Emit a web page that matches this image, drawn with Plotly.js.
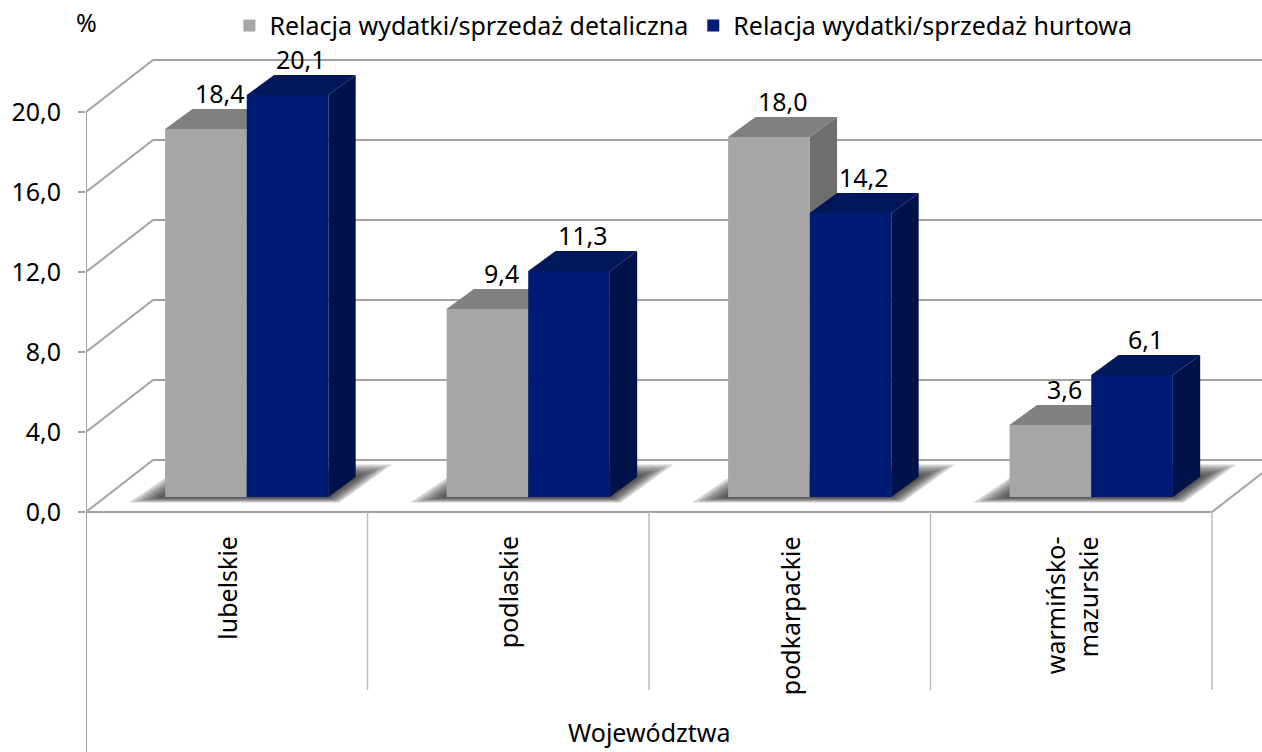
<!DOCTYPE html>
<html>
<head>
<meta charset="utf-8">
<script src="https://cdn.plot.ly/plotly-3.0.1.min.js"></script>
<style>
  html, body { margin: 0; padding: 0; background: #fff; }
  #graph-container { width: 1262px; height: 752px; }
</style>
</head>
<body>
<div id="graph-container"></div>
<script>
// data
const categories = ['lubelskie', 'podlaskie', 'podkarpackie', 'warmińsko-<br>mazurskie'];
const retailRatio = [18.4, 9.4, 18.0, 3.6];
const wholesaleRatio = [20.1, 11.3, 14.2, 6.1];
const seriesNames = ['Relacja wydatki/sprzedaż detaliczna', 'Relacja wydatki/sprzedaż hurtowa'];
const yTicks = [0, 4, 8, 12, 16, 20];

// fake 3D geometry, in axis units
const PX_X = 281.5;      // pixels per x unit
const PX_Y = 20;         // pixels per y unit
const WALL_DX = 0.238;   // depth of the box along x
const WALL_DY = 2.6;     // depth of the box along y
const BAR_BASE = 0.75;   // bars stand a bit back on the floor
const BAR_W = 0.29;
const BAR_DX = 0.097;    // bar depth
const BAR_DY = 1.0;
const GRAY_LEFT = 0.281;

const colors = {
    grid: '#a3a3a3',
    divider: '#bdbdbd',
    gray: { front: '#a6a6a6', top: '#808080', side: '#6e6e6e' },
    blue: { front: '#001b74', top: '#00185a', side: '#00124a' }
};

const fmt = v => v.toFixed(1).replace('.', ',');

function line(x0, y0, x1, y1, color, width) {
    return { type: 'line', xref: 'x', yref: 'y', x0, y0, x1, y1, layer: 'below',
             line: { color: color, width: width } };
}
function poly(pts, fill, opacity) {
    const d = 'M ' + pts.map(p => p[0] + ',' + p[1]).join(' L ') + ' Z';
    return { type: 'path', xref: 'x', yref: 'y', path: d, layer: 'below',
             fillcolor: fill, opacity: opacity === undefined ? 1 : opacity,
             line: { width: 0 } };
}

const shapes = [];
const nCat = categories.length;

// walls: side diagonals and back gridlines
yTicks.forEach(v => {
    shapes.push(line(0, v, WALL_DX, v + WALL_DY, colors.grid, 2));
    shapes.push(line(WALL_DX, v + WALL_DY, nCat + WALL_DX, v + WALL_DY, colors.grid, 2));
});
// floor front edge + right diagonal
shapes.push(line(0, 0, nCat, 0, colors.grid, 2));
shapes.push(line(nCat, 0, nCat + WALL_DX, WALL_DY, colors.grid, 2));
// front vertical axis / table frame
shapes.push(line(0, yTicks[yTicks.length - 1], 0, -12, colors.grid, 2));
for (let i = 1; i <= nCat; i++) {
    shapes.push(line(i, 0, i, -8.9, colors.divider, 1.5));
}

// soft shadows on the floor: stacked translucent rings around the bar footprint
for (let i = 0; i < nCat; i++) {
    const gl = i + GRAY_LEFT;
    const gr = gl + 2 * BAR_W;
    [36, 30, 24, 18, 12, 6].forEach(m => {
        const mx = m / PX_X, my = m / PX_Y;
        shapes.push(poly([
            [gl - mx, BAR_BASE - 0.15 * my],
            [gr + 0.3 * mx, BAR_BASE - 0.15 * my],
            [gr + BAR_DX + mx, BAR_BASE + BAR_DY + 0.35 * my],
            [gl + BAR_DX - 0.2 * mx, BAR_BASE + BAR_DY + 0.35 * my]
        ], '#202020', 0.2));
    });
}

// top and side faces of the bars
const grayX = [], blueX = [];
for (let i = 0; i < nCat; i++) {
    const gl = i + GRAY_LEFT;
    const bl = gl + BAR_W;
    grayX.push(gl + BAR_W / 2);
    blueX.push(bl + BAR_W / 2);
    [[gl, retailRatio[i], colors.gray], [bl, wholesaleRatio[i], colors.blue]].forEach(([x0, v, c]) => {
        const x1 = x0 + BAR_W;
        const top = BAR_BASE + v;
        shapes.push(poly([[x1, BAR_BASE], [x1 + BAR_DX, BAR_BASE + BAR_DY],
                          [x1 + BAR_DX, top + BAR_DY], [x1, top]], c.side));
        shapes.push(poly([[x0, top], [x1, top], [x1 + BAR_DX, top + BAR_DY],
                          [x0 + BAR_DX, top + BAR_DY]], c.top));
    });
}

const traces = [
    {
        type: 'bar', name: seriesNames[0], x: grayX, y: retailRatio,
        base: BAR_BASE, width: BAR_W,
        marker: { color: colors.gray.front, line: { width: 0 } },
        hovertemplate: '%{y:.1f}<extra></extra>'
    },
    {
        type: 'bar', name: seriesNames[1], x: blueX, y: wholesaleRatio,
        base: BAR_BASE, width: BAR_W,
        marker: { color: colors.blue.front, line: { width: 0 } },
        hovertemplate: '%{y:.1f}<extra></extra>'
    }
];

const font = { family: '"Noto Sans", "Open Sans", sans-serif', size: 25, color: '#000' };
const annotations = [];

// value labels above each bar
for (let i = 0; i < nCat; i++) {
    [[grayX[i], retailRatio[i]], [blueX[i], wholesaleRatio[i]]].forEach(([x, v]) => {
        annotations.push({
            x: x + BAR_DX / 2, y: BAR_BASE + v + BAR_DY, xref: 'x', yref: 'y',
            text: fmt(v), showarrow: false, yanchor: 'bottom', yshift: -3, font: font
        });
    });
}
// category labels, rotated
categories.forEach((c, i) => {
    annotations.push({
        x: i + 0.5, y: -1.1, xref: 'x', yref: 'y', text: c, showarrow: false,
        textangle: -90, xanchor: 'center', yanchor: 'top', align: 'right', font: font
    });
});
annotations.push({
    x: nCat / 2, y: -11.95, xref: 'x', yref: 'y', text: 'Województwa',
    showarrow: false, yanchor: 'bottom', font: font
});
annotations.push({
    x: 0, y: 1.047, xref: 'paper', yref: 'paper', text: '%',
    showarrow: false, xanchor: 'center', yanchor: 'middle', font: font
});

const layout = {
    width: 1262,
    height: 752,
    margin: { l: 86, r: 0, t: 55, b: 0 },
    paper_bgcolor: 'white',
    plot_bgcolor: 'white',
    font: font,
    barmode: 'overlay',
    showlegend: true,
    legend: {
        orientation: 'h', x: 0.508, xanchor: 'center', y: 1.075, yanchor: 'top',
        font: font, bgcolor: 'rgba(0,0,0,0)', itemwidth: 30
    },
    xaxis: {
        range: [0, (1262 - 86) / PX_X],
        showgrid: false, zeroline: false, showticklabels: false, ticks: '', fixedrange: true
    },
    yaxis: {
        range: [-12, 22.85],
        tickvals: yTicks,
        ticktext: yTicks.map(fmt),
        ticks: 'outside', ticklen: 7, tickwidth: 2, tickcolor: colors.grid,
        ticklabelstandoff: 12,
        showgrid: false, zeroline: false, showline: false, fixedrange: true,
        tickfont: font
    },
    shapes: shapes,
    annotations: annotations
};

Plotly.newPlot('graph-container', traces, layout, { displayModeBar: false, staticPlot: true });
</script>
</body>
</html>
